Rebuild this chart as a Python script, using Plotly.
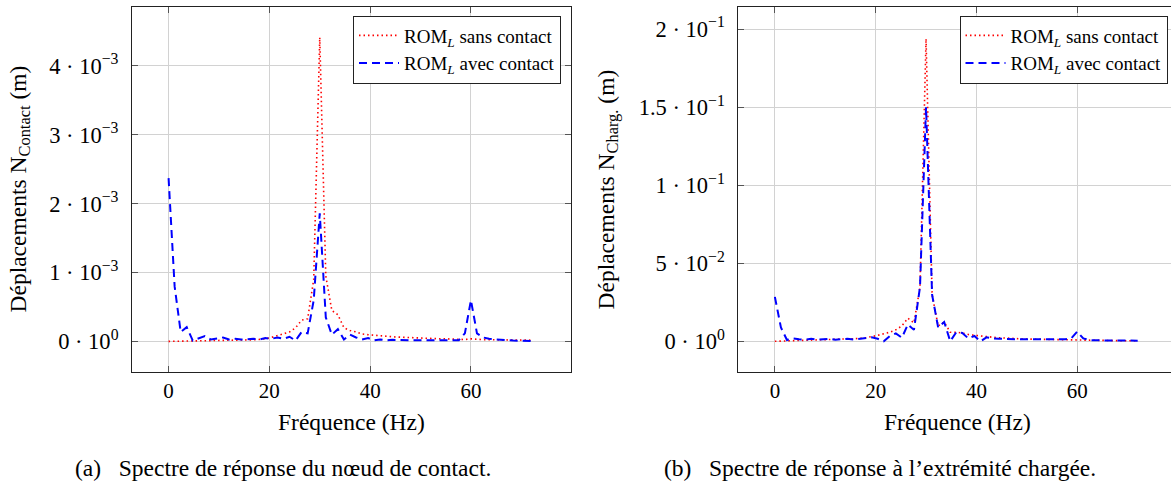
import plotly.graph_objects as go

# ---------------- data ----------------
freq = [0, 1.2, 2.4, 3.6, 4.8, 6, 7.2, 8.4, 9.6, 10.8,
        12, 13.2, 14.4, 15.6, 16.8, 18, 19.2, 20.4, 21.6, 22.8,
        24, 25.2, 26.4, 27.6, 28.8, 30, 31.2, 32.4, 33.6, 34.8,
        36, 37.2, 38.4, 39.6, 40.8, 42, 43.2, 44.4, 45.6, 46.8,
        48, 49.2, 50.4, 51.6, 52.8, 54, 55.2, 56.4, 57.6, 58.8,
        60, 61.2, 62.4, 63.6, 64.8, 66, 67.2, 68.4, 69.6, 70.8, 72]

# contact node (values in mm -> converted to m)
contact_sans_mm = [0.003, 0.004, 0.005, 0.006, 0.007, 0.008, 0.010, 0.011, 0.012, 0.013,
                   0.015, 0.016, 0.018, 0.022, 0.026, 0.032, 0.040, 0.060, 0.090, 0.120,
                   0.140, 0.200, 0.310, 0.330, 0.900, 4.410, 0.950, 0.450, 0.390, 0.200,
                   0.160, 0.140, 0.110, 0.100, 0.090, 0.080, 0.075, 0.070, 0.065, 0.060,
                   0.055, 0.050, 0.050, 0.045, 0.045, 0.040, 0.040, 0.035, 0.035, 0.030,
                   0.040, 0.030, 0.028, 0.027, 0.026, 0.025, 0.024, 0.023, 0.022, 0.021, 0.020]
contact_avec_mm = [2.37, 0.80, 0.14, 0.21, 0.015, 0.05, 0.08, 0.03, 0.04, 0.06,
                   0.03, 0.04, 0.03, 0.04, 0.04, 0.03, 0.05, 0.04, 0.06, 0.04,
                   0.07, 0.015, 0.14, 0.12, 0.60, 1.86, 0.35, 0.10, 0.18, 0.03,
                   0.10, 0.06, 0.03, 0.05, 0.02, 0.03, 0.02, 0.025, 0.02, 0.02,
                   0.02, 0.02, 0.02, 0.02, 0.02, 0.02, 0.02, 0.02, 0.02, 0.12,
                   0.60, 0.12, 0.06, 0.04, 0.03, 0.02, 0.02, 0.015, 0.01, 0.01, 0.01]

# loaded end (values in m)
charg_sans = [0.0002, 0.0003, 0.0005, 0.0006, 0.0008, 0.0009, 0.0010, 0.0011, 0.0012, 0.0013,
              0.0014, 0.0015, 0.0017, 0.0018, 0.0020, 0.0024, 0.0030, 0.0040, 0.0050, 0.0060,
              0.0075, 0.0100, 0.0150, 0.0120, 0.0350, 0.1938, 0.0300, 0.0100, 0.0125, 0.0060,
              0.0060, 0.0055, 0.0045, 0.0040, 0.0035, 0.0030, 0.0028, 0.0025, 0.0022, 0.0020,
              0.0018, 0.0017, 0.0016, 0.0015, 0.0014, 0.0013, 0.0012, 0.0011, 0.0010, 0.0010,
              0.0012, 0.0009, 0.0008, 0.0007, 0.0007, 0.0006, 0.0006, 0.0006, 0.0005, 0.0005, 0.0005]
charg_avec = [0.0286, 0.0090, 0.0010, 0.0020, 0.0015, 0.0012, 0.0018, 0.0012, 0.0015, 0.0018,
              0.0012, 0.0016, 0.0018, 0.0013, 0.0017, 0.0022, 0.0027, 0.0018, 0.0002, 0.0035,
              0.0052, 0.0025, 0.0110, 0.0075, 0.0350, 0.1500, 0.0300, 0.0090, 0.0125, 0.0002,
              0.0060, 0.0055, 0.0020, 0.0036, 0.0002, 0.0027, 0.0020, 0.0018, 0.0016, 0.0015,
              0.0015, 0.0015, 0.0015, 0.0015, 0.0014, 0.0014, 0.0014, 0.0014, 0.0015, 0.0020,
              0.0064, 0.0020, 0.0010, 0.0008, 0.0008, 0.0007, 0.0007, 0.0007, 0.0006, 0.0006, 0.0006]

x_tickvals = [0, 20, 40, 60]
left_tickvals = [0, 1e-3, 2e-3, 3e-3, 4e-3]
left_ticktext = ["0 · 10<sup>0</sup>", "1 · 10<sup>−3</sup>", "2 · 10<sup>−3</sup>",
                 "3 · 10<sup>−3</sup>", "4 · 10<sup>−3</sup>"]
right_tickvals = [0, 0.05, 0.1, 0.15, 0.2]
right_ticktext = ["0 · 10<sup>0</sup>", "5 · 10<sup>−2</sup>", "1 · 10<sup>−1</sup>",
                  "1.5 · 10<sup>−1</sup>", "2 · 10<sup>−1</sup>"]

name_sans = "ROM<sub><i>L</i></sub> sans contact"
name_avec = "ROM<sub><i>L</i></sub> avec contact"

# ---------------- figure ----------------
W, H = 1171, 484
FONT = "'Liberation Serif', 'Times New Roman', Times, 'DejaVu Serif', serif"


def fx(px):
    return px / W


def fy(py):
    return 1 - py / H


contact_sans = [v * 1e-3 for v in contact_sans_mm]
contact_avec = [v * 1e-3 for v in contact_avec_mm]

red = dict(color="#ff0000", width=1.6, dash="1.5px,3px")
blue = dict(color="#0000ff", width=2, dash="8px,5px")

fig = go.Figure()
fig.add_trace(go.Scatter(x=freq, y=contact_sans, mode="lines", line=red, name=name_sans,
                         xaxis="x", yaxis="y", legend="legend"))
fig.add_trace(go.Scatter(x=freq, y=contact_avec, mode="lines", line=blue, name=name_avec,
                         xaxis="x", yaxis="y", legend="legend"))
fig.add_trace(go.Scatter(x=freq, y=charg_sans, mode="lines", line=red, name=name_sans,
                         xaxis="x2", yaxis="y2", legend="legend2"))
fig.add_trace(go.Scatter(x=freq, y=charg_avec, mode="lines", line=blue, name=name_avec,
                         xaxis="x2", yaxis="y2", legend="legend2"))

GRID = "#d2d2d2"
common = dict(showgrid=True, gridcolor=GRID, gridwidth=1, zeroline=False,
              showline=True, linecolor="#222222", linewidth=1,
              ticks="inside", ticklen=6, tickcolor="#555555", tickwidth=1)
xfont = dict(family=FONT, size=21, color="black")
yfont = dict(family=FONT, size=22.5, color="black")

x_range = [-7.26, 79.86]
left_x0, left_x1 = 132, 571
right_x0 = 738.3
right_full = right_x0 + (left_x1 - left_x0)
right_end = x_range[0] + (x_range[1] - x_range[0]) * (W - right_x0) / (right_full - right_x0)
y_top, y_bot = 7, 372

legend_common = dict(xanchor="right", y=fy(15.5), yanchor="top",
                     bgcolor="white", bordercolor="#222222", borderwidth=1,
                     font=dict(family=FONT, size=19, color="black"),
                     itemwidth=40, tracegroupgap=0)

fig.update_layout(
    width=W, height=H,
    margin=dict(l=0, r=0, t=0, b=0),
    paper_bgcolor="white", plot_bgcolor="white",
    font=dict(family=FONT, color="black"),
    xaxis=dict(domain=[fx(left_x0), fx(left_x1)], range=x_range, tickvals=x_tickvals,
               mirror="ticks", anchor="y", ticklabelstandoff=0, tickfont=xfont, **common),
    yaxis=dict(domain=[fy(y_bot), fy(y_top)], range=[-0.441e-3, 4.851e-3],
               tickvals=left_tickvals, ticktext=left_ticktext, mirror="ticks",
               anchor="x", ticklabelstandoff=8, tickfont=yfont, **common),
    xaxis2=dict(domain=[fx(right_x0), 1.0], range=[x_range[0], right_end],
                tickvals=x_tickvals, mirror="ticks", anchor="y2", ticklabelstandoff=0,
                tickfont=xfont, **common),
    yaxis2=dict(domain=[fy(y_bot), fy(y_top)], range=[-0.01946, 0.2141],
                tickvals=right_tickvals, ticktext=right_ticktext, mirror=False,
                anchor="x2", ticklabelstandoff=8, tickfont=yfont, **common),
    legend=dict(x=fx(561), **legend_common),
    legend2=dict(x=fx(1167.5), **legend_common),
    showlegend=True,
)

ann_font = dict(family=FONT, size=23.5, color="black")
cap_font = dict(family=FONT, size=23.5, color="black")
annotations = [
    dict(text="Fréquence (Hz)", x=fx((left_x0 + left_x1) / 2), y=fy(422), xref="paper", yref="paper",
         showarrow=False, font=ann_font, xanchor="center", yanchor="middle"),
    dict(text="Fréquence (Hz)", x=fx((right_x0 + right_full) / 2), y=fy(422), xref="paper", yref="paper",
         showarrow=False, font=ann_font, xanchor="center", yanchor="middle"),
    dict(text="Déplacements N<sub>Contact</sub> (m)", x=fx(20), y=fy((y_top + y_bot) / 2),
         xref="paper", yref="paper", showarrow=False, font=ann_font, textangle=-90,
         xanchor="center", yanchor="middle"),
    dict(text="Déplacements N<sub>Charg.</sub> (m)", x=fx(608), y=fy((y_top + y_bot) / 2),
         xref="paper", yref="paper", showarrow=False, font=ann_font, textangle=-90,
         xanchor="center", yanchor="middle"),
    dict(text="(a)\u2002 Spectre de réponse du nœud de contact.", x=fx(493), y=fy(468),
         xref="paper", yref="paper", showarrow=False, font=cap_font, xanchor="right", yanchor="middle"),
    dict(text="(b)\u2002 Spectre de réponse à l’extrémité chargée.", x=fx(1098), y=fy(468),
         xref="paper", yref="paper", showarrow=False, font=cap_font, xanchor="right", yanchor="middle"),
]
fig.update_layout(annotations=annotations)

fig.write_html("out.html")
